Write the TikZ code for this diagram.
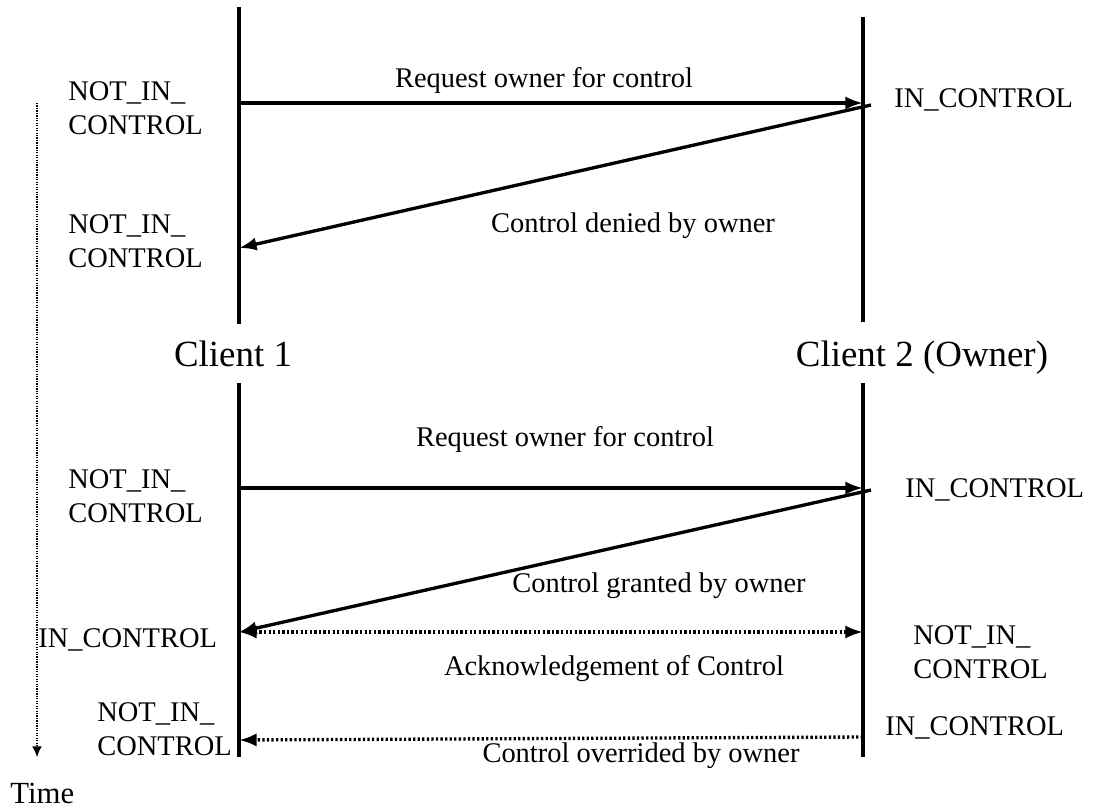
\documentclass[tikz,border=0pt]{standalone}
\usepackage{fontspec}
\setmainfont{Liberation Serif}
\usetikzlibrary{arrows.meta}

\begin{document}
\begin{tikzpicture}[x=0.02cm,y=-0.02cm,
state/.style={%
anchor=north west,
align=left,
inner sep=0pt,
font=\fontsize{16.2}{19.8}\selectfont
},
msg/.style={%
anchor=base,
inner sep=0pt,
font=\fontsize{16.2}{19.8}\selectfont
},
client/.style={%
anchor=base,
inner sep=0pt,
font=\fontsize{21}{25}\selectfont
},
life/.style={%
line width=1.9pt
},
call/.style={%
line width=1.9pt,
-{Latex[length=10pt,width=7.5pt]}
},
ack/.style={%
line width=1.9pt,
dash pattern=on 1.3pt off 1.3pt,
-{Latex[length=10pt,width=7.5pt]}
},
]
\useasboundingbox(0,0)rectangle(1094,807);
%% lifelines
\coordinate(c1a)at(239,7);
\coordinate(c1b)at(239,324);
\coordinate(c1c)at(239,383);
\coordinate(c1d)at(239,757);
\coordinate(c2a)at(863,17);
\coordinate(c2b)at(863,322);
\coordinate(c2c)at(863,383);
\coordinate(c2d)at(863,757);
\draw[life](c1a)--(c1b);
\draw[life](c1c)--(c1d);
\draw[life](c2a)--(c2b);
\draw[life](c2c)--(c2d);
\node[client]at(233,366)(cl1){Client 1};
\node[client]at(922,366)(cl2){Client 2 (Owner)};
%% time
\coordinate(t1)at(37,103);
\coordinate(t2)at(37,757);
\draw[line width=0.7pt,dash pattern=on 0.7pt off 0.7pt,-{Latex[length=6pt,width=5.5pt]}](t1)--(t2);
\node[anchor=base west,inner sep=0pt,font=\fontsize{17.5}{21}\selectfont]at(10,803)(time){Time};
%% denied
\coordinate(m1s)at(239,103);
\coordinate(m1e)at(863,103);
\coordinate(m2s)at(871,105);
\coordinate(m2e)at(239,248);
\draw[call](m1s)--(m1e);
\draw[call](m2s)--(m2e);
\node[msg]at(544,88)(l1){Request owner for control};
\node[msg]at(633,233)(l2){Control denied by owner};
\node[state]at(68,81)(s1){NOT\_IN\_\\CONTROL};
\node[state]at(68,214)(s2){NOT\_IN\_\\CONTROL};
\node[anchor=base west,inner sep=0pt,font=\fontsize{16.2}{19.8}\selectfont]at(894,108)(s3){IN\_CONTROL};
%% granted
\coordinate(m3s)at(239,488);
\coordinate(m3e)at(863,488);
\coordinate(m4s)at(871,490);
\coordinate(m4e)at(239,632);
\coordinate(m5e)at(863,632);
\coordinate(m6s)at(863,737);
\coordinate(m6e)at(239,740);
\draw[call](m3s)--(m3e);
\draw[call](m4s)--(m4e);
\draw[ack,{Latex[length=10pt,width=7.5pt]}-{Latex[length=10pt,width=7.5pt]}](m4e)--(m5e);
\draw[ack](m6s)--(m6e);
\node[msg]at(565,446)(l3){Request owner for control};
\node[msg]at(659,592)(l4){Control granted by owner};
\node[msg]at(614,675)(l5){Acknowledgement of Control};
\node[msg]at(641,762)(l6){Control overrided by owner};
\node[state]at(68,469)(s4){NOT\_IN\_\\CONTROL};
\node[anchor=base west,inner sep=0pt,font=\fontsize{16.2}{19.8}\selectfont]at(905,497)(s5){IN\_CONTROL};
\node[anchor=base west,inner sep=0pt,font=\fontsize{16.2}{19.8}\selectfont]at(38,647)(s6){IN\_CONTROL};
\node[state]at(913,625)(s7){NOT\_IN\_\\CONTROL};
\node[anchor=base west,inner sep=0pt,font=\fontsize{16.2}{19.8}\selectfont]at(885,735)(s8){IN\_CONTROL};
\node[state]at(97,702)(s9){NOT\_IN\_\\CONTROL};
\end{tikzpicture}
\end{document}
